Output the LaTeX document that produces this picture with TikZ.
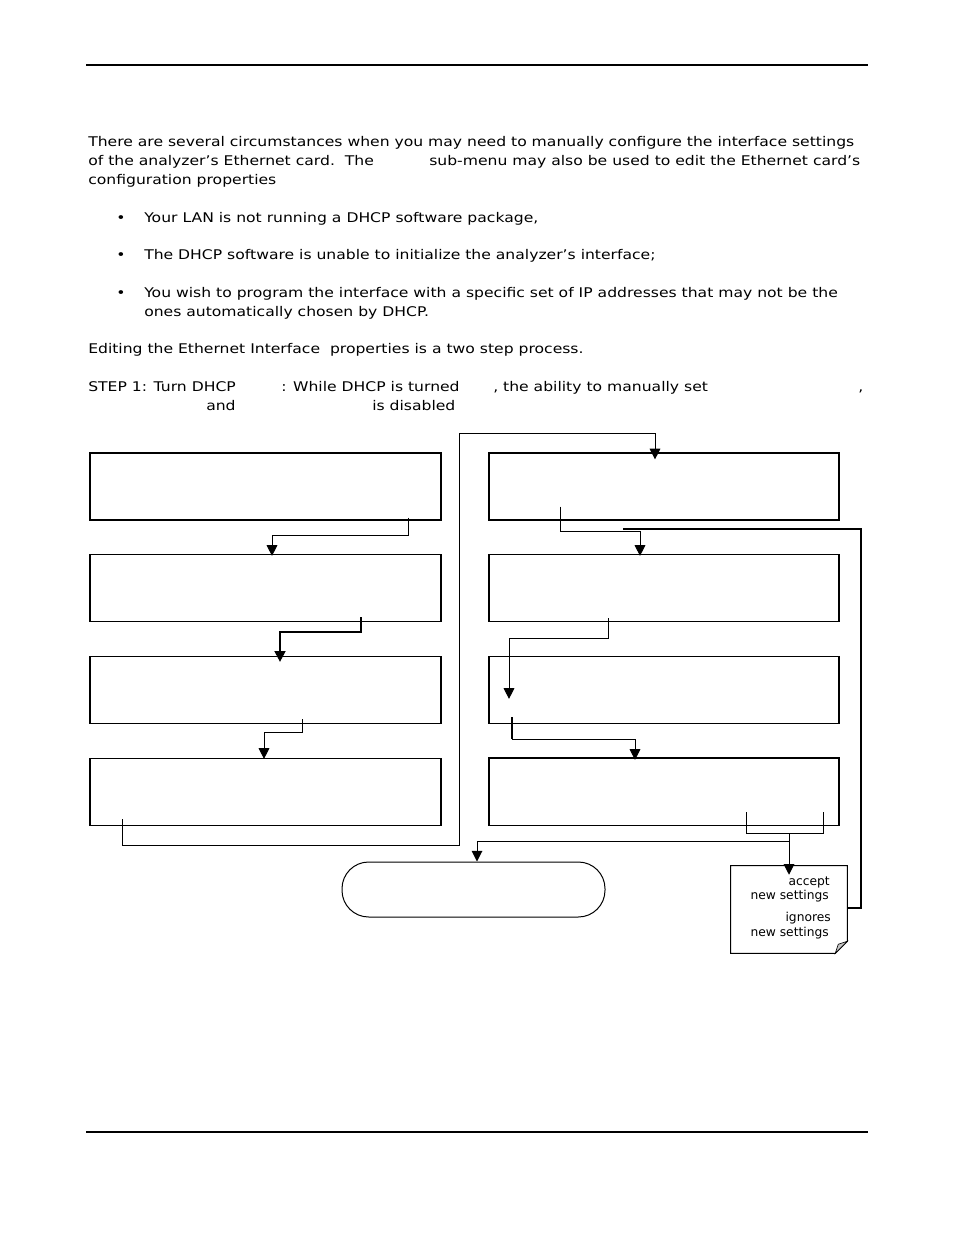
\documentclass[tikz,border=0pt]{standalone}
\usepackage{fontspec}
\setmainfont{DejaVu Sans}[FakeStretch=1.17]
\newfontfamily\notefont{DejaVu Sans}
\usetikzlibrary{calc,arrows.meta}

\begin{document}
\begin{tikzpicture}[x=0.75pt, y=-0.75pt, >={Triangle[width=8pt,length=8pt]},
    txt/.style={anchor=base west, inner sep=0pt, font=\fontsize{10}{12}\selectfont},
    notetxt/.style={anchor=base east, inner sep=0pt, font=\notefont\fontsize{9.2}{11}\selectfont},
    lbox/.style={draw, line width=0.9pt, minimum width=263.25pt, minimum height=50.25pt, inner sep=0pt},
    rbox/.style={lbox, minimum width=262.5pt},
    link/.style={->, line width=0.75pt},
    heavy/.style={line width=1.6pt}]
  \useasboundingbox (0,0) rectangle (954,1235);

  % page rules
  \draw[line width=0.9pt] (86,65) -- (868,65);
  \draw[line width=0.9pt] (86,1132) -- (868,1132);

  % text above the chart
  \node[txt] (intro1) at (88,146) {There are several circumstances when you may need to manually configure the interface settings};
  \node[txt] (intro2) at (88,165) {of the analyzer’s Ethernet card.\ \ The};
  \node[txt] (intro3) at (429,165) {sub-menu may also be used to edit the Ethernet card’s};
  \node[txt] (intro4) at (88,184) {configuration properties};
  \node[txt] (dot1) at (116,222) {•};
  \node[txt] (item1) at (144,222) {Your LAN is not running a DHCP software package,};
  \node[txt] (dot2) at (116,259) {•};
  \node[txt] (item2) at (144,259) {The DHCP software is unable to initialize the analyzer’s interface;};
  \node[txt] (dot3) at (116,297) {•};
  \node[txt] (item3a) at (144,297) {You wish to program the interface with a specific set of IP addresses that may not be the};
  \node[txt] (item3b) at (144,316) {ones automatically chosen by DHCP.};
  \node[txt] (edit) at (88,353) {Editing the Ethernet Interface\ \ properties is a two step process.};
  \node[txt] (step1a) at (88,391) {STEP 1: Turn DHCP};
  \node[txt] (step1b) at (281,391) {: While DHCP is turned};
  \node[txt] (step1c) at (493,391) {, the ability to manually set};
  \node[txt] (step1d) at (858,391) {,};
  \node[txt] (step2a) at (206,410) {and};
  \node[txt] (step2b) at (372,410) {is disabled};

  % menu screens
  \node[lbox] (l1) at (265.5,486.5) {};
  \node[lbox] (l2) at (265.5,588) {};
  \node[lbox] (l3) at (265.5,690) {};
  \node[lbox] (l4) at (265.5,792) {};
  \node[rbox] (r1) at (664,486.5) {};
  \node[rbox] (r2) at (664,588) {};
  \node[rbox] (r3) at (664,690) {};
  \node[rbox] (r4) at (664,792) {};
  \draw[heavy] (r4.north west) -- (r4.north east);

  \node[draw, line width=0.75pt, rounded corners=20pt, minimum width=197.25pt,
        minimum height=41.25pt] (done) at (473.5,889.5) {};

  % note with folded corner
  \node[minimum width=87pt, minimum height=65.25pt, inner sep=0pt] (note) at (789,909.5) {};
  \draw[line width=0.75pt] (note.north west) -- (note.north east) -- ($(note.south east)+(0,-12)$)
    -- ($(note.south east)+(-12,0)$) -- (note.south west) -- cycle;
  \filldraw[fill=gray!45, line width=0.5pt] ($(note.south east)+(0,-12)$) -- ($(note.south east)+(-12,0)$)
    -- ($(note.south east)+(-9,-9)$) -- cycle;
  \node[notetxt] (acc) at (830,885.5) {accept};
  \node[notetxt] (acc2) at (829,899.5) {new settings};
  \node[notetxt] (ign) at (831,921.5) {ignores};
  \node[notetxt] (ign2) at (829,936.5) {new settings};

  % connectors
  \draw[link] ($(l1.south)+(142.5,-3)$) -- ++(0,18) -| ($(l2.north)+(6.5,2)$);
  \draw[link, heavy] ($(l2.south)+(95.5,-5)$) -- ++(0,15) -| ($(l3.north)+(14.5,6)$);
  \draw[link] ($(l3.south)+(36.5,-5)$) -- ++(0,13) -| ($(l4.north)+(-1.5,1)$);
  \draw[link] ($(l4.south)+(-143.5,-7)$) -- ++(0,26) -- ++(337,0) -- ++(0,-412)
    -| ($(r1.north)+(-9,7)$);
  \draw[link] ($(r1.south)+(-104,-14)$) -- ++(0,25) -| ($(r2.north)+(-24,2)$);
  \draw[heavy] ($(note.east)+(0,-1.5)$) -- ++(14,0) |- ($(r2.north)+(-41,-25)$);
  \draw[link] ($(r2.south)+(-56,-4)$) -- ++(0,20) -| ($(r3.north)+(-155,43)$);
  \draw[heavy] ($(r3.south)+(-152,-7)$) -- ++(0,22) coordinate (r3out);
  \draw[link] (r3out) -| ($(r4.north)+(-29,2)$);
  \draw[line width=0.75pt] ($(r4.south)+(82,-14)$) |- ($(r4.south)+(159,7)$) -- ++(0,-21);
  \draw[link] ($(r4.south)+(125,7)$) -- ($(note.north)+(0,9)$);
  \draw[link] ($(r4.south)+(125,15)$) -| ($(done.north)+(3.5,0)$);
\end{tikzpicture}
\end{document}
